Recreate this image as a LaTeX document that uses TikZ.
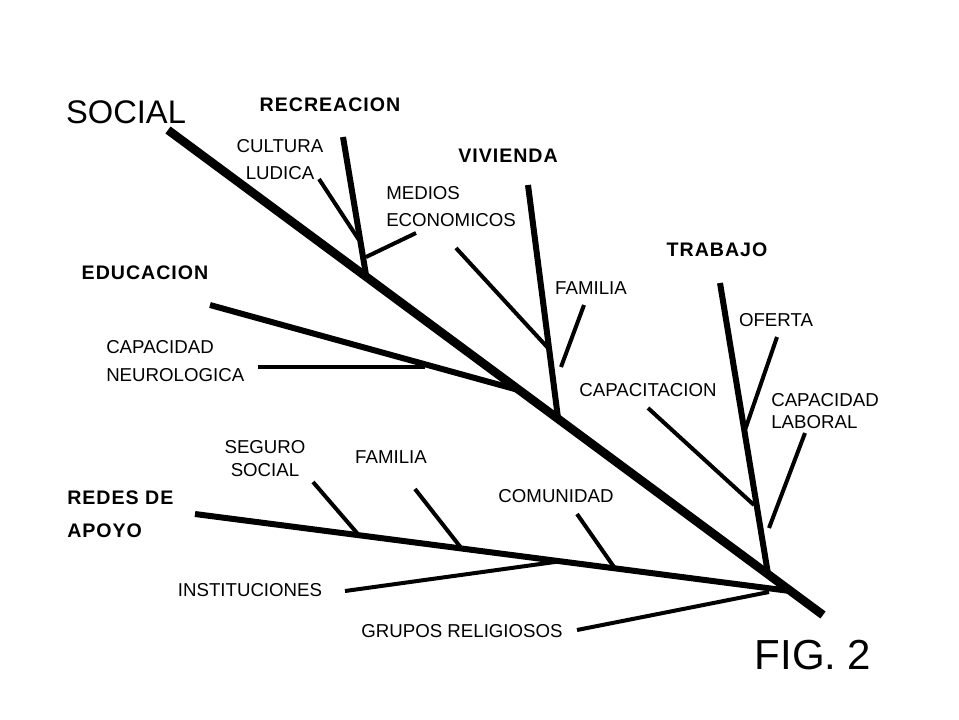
\documentclass[tikz,border=0pt]{standalone}
\usepackage{fontspec}
\setmainfont{Liberation Sans}
\newfontfamily\spacedfont[LetterSpace=5]{Liberation Sans}
\begin{document}
\begin{tikzpicture}[x=0.75pt,y=-0.75pt,
  spine/.style={line width=6.5pt},
  branch/.style={line width=4.5pt},
  twig/.style={line width=3pt},
  lbl/.style={inner sep=0pt, align=center, font=\fontsize{14pt}{#1}\selectfont},
  lbl/.default=17pt,
  head/.style={inner sep=0pt, align=left, font=\spacedfont\bfseries\fontsize{14.7pt}{#1}\selectfont},
  head/.default=18pt]
\path[use as bounding box] (0,0) rectangle (959,719);

% labels
\node[inner sep=0pt, font=\fontsize{24.5pt}{28pt}\selectfont] (social) at (126,112) {SOCIAL};
\node[head] (recreacion) at (330,105) {RECREACION};
\node[lbl=20.25pt] (cultura) at (280,159.5) {CULTURA\\LUDICA};
\node[head] (vivienda) at (508,156) {VIVIENDA};
\node[lbl=20.25pt, align=left, anchor=west] (medios) at (386,206.5) {MEDIOS\\ECONOMICOS};
\node[head] (trabajo) at (717,250) {TRABAJO};
\node[head] (educacion) at (145,273) {EDUCACION};
\node[lbl] (familiaA) at (591,288) {FAMILIA};
\node[lbl] (oferta) at (776,320) {OFERTA};
\node[lbl=21pt, align=left, anchor=west] (capneuro) at (106,361) {CAPACIDAD\\NEUROLOGICA};
\node[lbl] (capacitacion) at (648,390) {CAPACITACION};
\node[lbl=16.5pt, align=left, anchor=west] (caplab) at (771,411) {CAPACIDAD\\LABORAL};
\node[lbl=17.25pt] (seguro) at (265,458.5) {SEGURO\\SOCIAL};
\node[lbl] (familiaB) at (391,457) {FAMILIA};
\node[head=24.75pt, anchor=west] (redes) at (67,514.5) {REDES DE\\APOYO};
\node[lbl] (comunidad) at (556,496) {COMUNIDAD};
\node[lbl] (instit) at (250,590) {INSTITUCIONES};
\node[lbl] (grupos) at (462,631) {GRUPOS RELIGIOSOS};
\node[inner sep=0pt, font=\fontsize{31.5pt}{36pt}\selectfont] (fig) at (813,655) {FIG. 2};

% coordinates
\coordinate (spA) at (168,130);
\coordinate (spB) at (823,615);
\coordinate (recA) at (343,137);
\coordinate (recB) at (366,275);
\coordinate (culA) at (319,179);
\coordinate (culB) at (359,240);
\coordinate (medA) at (416,233);
\coordinate (medB) at (366,257);
\coordinate (vivA) at (528,185);
\coordinate (vivB) at (558,418);
\coordinate (diaA) at (456,248);
\coordinate (diaB) at (548,348);
\coordinate (famA) at (584,305);
\coordinate (famB) at (561,367);
\coordinate (eduA) at (210,305);
\coordinate (eduB) at (522,391);
\coordinate (neuA) at (258,367);
\coordinate (neuB) at (425,367);
\coordinate (traA) at (720,283);
\coordinate (traB) at (768,574);
\coordinate (ofeA) at (777,337);
\coordinate (ofeB) at (745,430);
\coordinate (labA) at (805,433);
\coordinate (labB) at (769,528);
\coordinate (capA) at (648,408);
\coordinate (capB) at (754,505);
\coordinate (redA) at (195,514);
\coordinate (redB) at (790,591);
\coordinate (segA) at (313,482);
\coordinate (segB) at (357,533);
\coordinate (fbA) at (415,489);
\coordinate (fbB) at (462,549);
\coordinate (comA) at (577,514);
\coordinate (comB) at (614,567);
\coordinate (insA) at (345,591);
\coordinate (insB) at (562,561);
\coordinate (gruA) at (577,630);
\coordinate (gruB) at (769,592);

% lines
\draw[spine] (spA) -- (spB);
\draw[branch] (recA) -- (recB);
\draw[twig] (culA) -- (culB);
\draw[twig] (medA) -- (medB);
\draw[branch] (vivA) -- (vivB);
\draw[twig] (diaA) -- (diaB);
\draw[twig] (famA) -- (famB);
\draw[branch] (eduA) -- (eduB);
\draw[twig] (neuA) -- (neuB);
\draw[branch] (traA) -- (traB);
\draw[twig] (ofeA) -- (ofeB);
\draw[twig] (labA) -- (labB);
\draw[twig] (capA) -- (capB);
\draw[branch] (redA) -- (redB);
\draw[twig] (segA) -- (segB);
\draw[twig] (fbA) -- (fbB);
\draw[twig] (comA) -- (comB);
\draw[twig] (insA) -- (insB);
\draw[twig] (gruA) -- (gruB);
\end{tikzpicture}
\end{document}
